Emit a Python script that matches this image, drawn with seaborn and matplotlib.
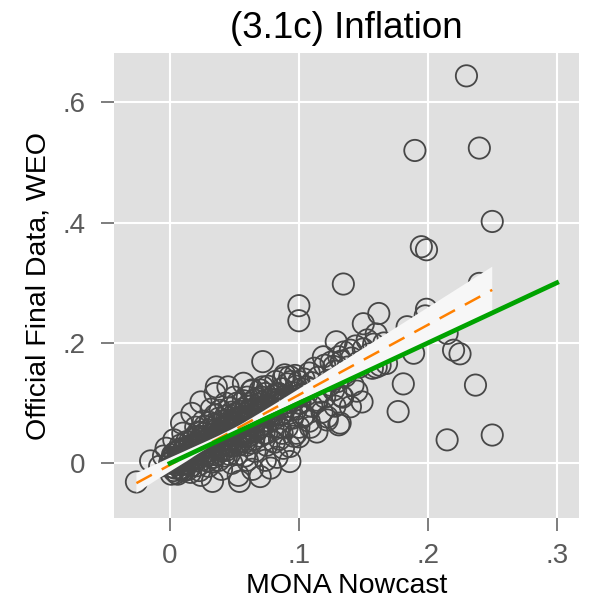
import matplotlib
matplotlib.use("Agg")
import matplotlib.pyplot as plt
import seaborn as sns

# Labels and ticks
title = "(3.1c) Inflation"
x_label = "MONA Nowcast"
y_label = "Official Final Data, WEO"
x_ticks = [0, 0.1, 0.2, 0.3]
x_tick_labels = ["0", ".1", ".2", ".3"]
y_ticks = [0, 0.2, 0.4, 0.6]
y_tick_labels = ["0", ".2", ".4", ".6"]

# 45-degree reference line span
ref_range = [0.0, 0.3]

# Nowcast (x) and final official inflation (y)
nowcast = [
    -0.026, -0.015, -0.008, -0.005, 0.000, 0.002, 0.004, 0.005, 0.006, 0.008,
    0.010, 0.010, 0.010, 0.012, 0.012, 0.014, 0.015, 0.015, 0.016, 0.017,
    0.018, 0.018, 0.020, 0.020, 0.020, 0.022, 0.024, 0.024, 0.025, 0.025,
    0.026, 0.027, 0.028, 0.028, 0.030, 0.030, 0.030, 0.032, 0.033, 0.034,
    0.034, 0.035, 0.035, 0.036, 0.036, 0.038, 0.038, 0.040, 0.040, 0.040,
    0.042, 0.043, 0.044, 0.045, 0.045, 0.045, 0.046, 0.046, 0.048, 0.048,
    0.050, 0.050, 0.050, 0.052, 0.052, 0.053, 0.054, 0.055, 0.055, 0.056,
    0.057, 0.058, 0.058, 0.060, 0.060, 0.060, 0.060, 0.062, 0.063, 0.064,
    0.064, 0.065, 0.065, 0.066, 0.066, 0.068, 0.070, 0.070, 0.070, 0.071,
    0.072, 0.072, 0.073, 0.074, 0.075, 0.075, 0.076, 0.078, 0.079, 0.080,
    0.080, 0.081, 0.082, 0.083, 0.084, 0.085, 0.085, 0.086, 0.087, 0.088,
    0.089, 0.090, 0.091, 0.093, 0.093, 0.093, 0.094, 0.095, 0.096, 0.098,
    0.098, 0.100, 0.100, 0.100, 0.102, 0.103, 0.104, 0.106, 0.108, 0.109,
    0.110, 0.114, 0.114, 0.114, 0.118, 0.119, 0.120, 0.122, 0.122, 0.124,
    0.127, 0.127, 0.127, 0.128, 0.129, 0.131, 0.131, 0.132, 0.133, 0.134,
    0.1345, 0.136, 0.140, 0.140, 0.142, 0.145, 0.147, 0.149, 0.150, 0.157,
    0.160, 0.162, 0.163, 0.166, 0.168, 0.100, 0.100, 0.177, 0.181, 0.184,
    0.189, 0.190, 0.195, 0.199, 0.199, 0.198, 0.215, 0.215, 0.220, 0.225,
    0.230, 0.237, 0.240, 0.240, 0.250, 0.250,
    0.003, -0.003, 0.009,
    0.000, 0.001, 0.002, 0.003, 0.004, 0.005, 0.006, 0.007, 0.008, 0.009,
    0.001, 0.002, 0.004, 0.005, 0.006, 0.007, 0.008, 0.009, 0.010, 0.011,
    0.011, 0.012, 0.013, 0.013, 0.014, 0.015, 0.016, 0.016, 0.017, 0.018,
    0.018, 0.019, 0.019, 0.020, 0.021, 0.021, 0.022, 0.022, 0.023, 0.023,
    0.024, 0.024, 0.025, 0.026, 0.026, 0.027, 0.027, 0.028, 0.029, 0.029,
    0.030, 0.031, 0.031, 0.032, 0.032, 0.033, 0.033, 0.034, 0.034, 0.035,
    0.035, 0.036, 0.036, 0.037, 0.037, 0.038, 0.038, 0.039, 0.039, 0.040,
    0.040, 0.041, 0.041, 0.042, 0.042, 0.043, 0.043, 0.044, 0.044, 0.045,
    0.045, 0.046, 0.047, 0.047, 0.048, 0.048, 0.049, 0.049, 0.050, 0.050,
    0.051, 0.051, 0.052, 0.052, 0.053, 0.053, 0.054, 0.054, 0.055, 0.055,
    0.056, 0.056, 0.057, 0.057, 0.058, 0.058, 0.059, 0.059, 0.060, 0.060,
    0.061, 0.061, 0.062, 0.062, 0.063, 0.063, 0.064, 0.064, 0.065, 0.065,
    0.066, 0.067, 0.067, 0.068, 0.068, 0.069, 0.069, 0.070, 0.070, 0.071,
    0.072, 0.072, 0.073, 0.074, 0.074, 0.075, 0.076, 0.076, 0.077, 0.078,
    0.079, 0.080, 0.080, 0.081, 0.082, 0.082, 0.083, 0.084, 0.085, 0.086,
    0.087, 0.088, 0.088, 0.089, 0.090, 0.091, 0.092, 0.093, 0.094, 0.095,
    0.096, 0.097, 0.098, 0.099, 0.100, 0.101, 0.102, 0.104, 0.106, 0.108,
    0.110, 0.112, 0.115, 0.117, 0.120, 0.123, 0.125, 0.128, 0.130, 0.133,
    0.135, 0.138, 0.141, 0.144, 0.146, 0.150, 0.153, 0.155, 0.158, 0.160,
]
final = [
    -0.031, 0.004, -0.005, 0.012, 0.000, 0.008, -0.008, 0.003, 0.020, 0.030,
    -0.012, 0.050, 0.020, 0.014, 0.025, 0.000, 0.035, 0.010, -0.015, 0.083,
    0.022, 0.040, 0.060, 0.004, 0.030, 0.045, 0.102, -0.020, 0.015, 0.040,
    0.070, 0.050, 0.030, 0.012, 0.055, -0.005, 0.020, 0.090, -0.030, 0.010,
    0.065, 0.116, 0.050, 0.127, 0.040, 0.075, 0.005, 0.020, -0.010, 0.040,
    0.060, 0.100, 0.072, 0.127, 0.030, 0.060, 0.045, 0.015, 0.085, 0.000,
    0.065, 0.110, 0.030, 0.015, 0.082, -0.020, -0.030, 0.050, 0.070, 0.090,
    0.133, 0.035, 0.012, 0.075, 0.005, 0.050, 0.095, 0.100, 0.120, 0.122,
    -0.010, 0.060, 0.040, 0.020, 0.105, 0.085, -0.022, 0.045, 0.060, 0.110,
    0.169, 0.127, 0.070, 0.005, 0.030, 0.050, 0.095, -0.008, 0.090, 0.060,
    0.080, 0.035, 0.115, 0.010, 0.116, 0.040, 0.060, 0.080, 0.050, 0.025,
    0.147, 0.100, 0.060, 0.003, 0.028, 0.144, 0.108, 0.075, 0.045, 0.090,
    0.050, 0.044, 0.100, 0.060, 0.115, 0.077, 0.080, 0.127, 0.070, 0.060,
    0.095, 0.105, 0.052, 0.102, 0.085, 0.177, 0.110, 0.077, 0.072, 0.130,
    0.161, 0.139, 0.122, 0.095, 0.202, 0.177, 0.064, 0.067, 0.112, 0.110,
    0.298, 0.145, 0.188, 0.094, 0.130, 0.120, 0.160, 0.102, 0.232, 0.158,
    0.160, 0.249, 0.163, 0.200, 0.166, 0.262, 0.237, 0.086, 0.132, 0.227,
    0.183, 0.520, 0.360, 0.355, 0.256, 0.245, 0.216, 0.039, 0.188, 0.182,
    0.644, 0.130, 0.524, 0.299, 0.402, 0.047,
    0.039, 0.025, 0.067,
    0.002, -0.018, 0.010, -0.012, 0.018, -0.002, -0.018, 0.004, 0.024, -0.010,
    -0.006, 0.014, 0.000, -0.016, 0.007, 0.020, -0.008, 0.009, -0.002, -0.012,
    0.024, -0.001, 0.012, 0.036, -0.010, 0.018, 0.006, 0.030, -0.004, 0.022,
    0.006, 0.044, 0.015, 0.034, -0.004, 0.022, 0.010, 0.052, 0.029, -0.012,
    0.022, 0.044, 0.006, 0.036, 0.016, 0.062, 0.026, 0.045, 0.004, 0.034,
    0.040, 0.014, 0.068, 0.028, 0.048, 0.036, 0.002, 0.044, 0.024, 0.080,
    0.030, 0.055, 0.014, 0.042, 0.064, 0.026, 0.050, 0.036, 0.088, 0.058,
    0.030, 0.046, 0.070, 0.012, 0.052, 0.034, 0.078, 0.050, 0.022, 0.064,
    0.040, 0.092, 0.056, 0.028, 0.070, 0.046, 0.036, 0.062, 0.054, 0.082,
    0.040, 0.066, 0.058, 0.100, 0.030, 0.074, 0.048, 0.062, 0.086, 0.036,
    0.060, 0.076, 0.044, 0.104, 0.066, 0.054, 0.082, 0.030, 0.068, 0.110,
    0.058, 0.088, 0.046, 0.072, 0.080, 0.034, 0.064, 0.096, 0.074, 0.052,
    0.092, 0.070, 0.108, 0.080, 0.056, 0.098, 0.074, 0.088, 0.122, 0.064,
    0.102, 0.084, 0.050, 0.096, 0.116, 0.078, 0.092, 0.128, 0.070, 0.106,
    0.086, 0.112, 0.100, 0.074, 0.106, 0.136, 0.090, 0.116, 0.104, 0.082,
    0.124, 0.100, 0.142, 0.112, 0.094, 0.132, 0.108, 0.088, 0.136, 0.118,
    0.104, 0.146, 0.128, 0.112, 0.136, 0.100, 0.124, 0.140, 0.114, 0.150,
    0.134, 0.158, 0.143, 0.118, 0.163, 0.138, 0.168, 0.153, 0.136, 0.170,
    0.185, 0.160, 0.175, 0.195, 0.168, 0.190, 0.205, 0.182, 0.198, 0.215,
]

plt.rcParams["font.family"] = ["Liberation Sans", "DejaVu Sans"]

fig = plt.figure(figsize=(5.93, 6.08), dpi=100)
ax = fig.add_axes([114 / 593, 1 - 518.3 / 608, 465 / 593, 465.3 / 608])
ax.set_facecolor("#e0e0e0")
for side in ax.spines.values():
    side.set_visible(False)

# Hollow markers
sns.scatterplot(x=nowcast, y=final, ax=ax, s=235, marker="o",
                facecolor="none", edgecolor="#474747", linewidth=1.3,
                zorder=2, legend=False)

# Fitted line with 95% band
sns.regplot(x=nowcast, y=final, ax=ax, scatter=False, ci=95, seed=7,
            line_kws=dict(color="#ff8000", lw=1.8, ls=(0, (7, 4.5)), zorder=4))
band = ax.collections[-1]
band.set_facecolor("#f7f7f7")
band.set_edgecolor("none")
band.set_alpha(1.0)
band.set_zorder(3)

# 45-degree line
sns.lineplot(x=ref_range, y=ref_range, ax=ax, color="#00a300", lw=3.4,
             zorder=5, legend=False)

ax.set_xlim(-0.0434, 0.3173)
ax.set_ylim(-0.0914, 0.682)
ax.set_xticks(x_ticks)
ax.set_xticklabels(x_tick_labels)
ax.set_yticks(y_ticks)
ax.set_yticklabels(y_tick_labels)
ax.grid(True, color="white", lw=1.5, zorder=0)
ax.set_axisbelow(True)
ax.tick_params(axis="both", direction="out", length=9.5, width=1.1,
               color="#5a5a5a", labelcolor="#5a5a5a", labelsize=20)
ax.tick_params(axis="x", pad=8)
ax.tick_params(axis="y", pad=11)

ax.set_title(title, fontsize=26.5, pad=11, color="black")
ax.set_xlabel(x_label, fontsize=20.5, labelpad=3, color="black")
ax.set_ylabel(y_label, fontsize=20.5, labelpad=8, color="black")

fig.savefig("out.png", dpi=100)
